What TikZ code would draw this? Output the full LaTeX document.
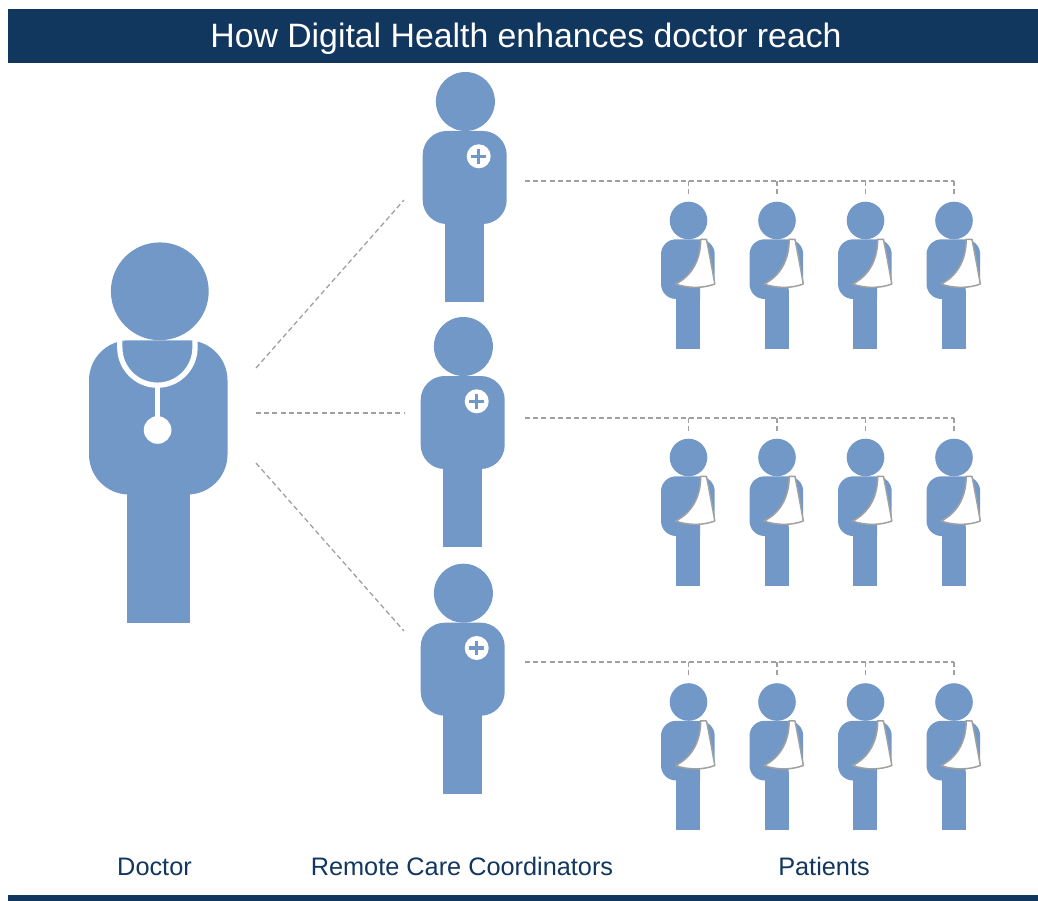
\documentclass[tikz,border=0pt]{standalone}
\usepackage{fontspec}
\setmainfont{Liberation Sans}
\definecolor{navy}{HTML}{12375F}
\definecolor{figblue}{HTML}{7298C8}
\definecolor{linkgray}{HTML}{A0A0A0}
\tikzset{
  figure/.style={fill=figblue,draw=none},
  hole/.style={fill=white,draw=none},
  link/.style={color=linkgray,line width=1.3pt,dash pattern=on 5pt off 3.2pt},
  caption/.style={text=navy,font=\fontsize{25.3}{28}\selectfont,anchor=base,inner sep=0pt},
  sling/.style={fill=white,draw=linkgray,line width=1.5pt,line join=round}
}
% coordinator, drawn at the place of the top one
\newcommand{\coordfig}[2]{
  \begin{scope}[shift={(#1,#2)}]
    \fill[figure] (465.4,101.5) circle (29.5);
    \fill[figure,rounded corners=24pt] (422.7,131) rectangle (506.7,224);
    \fill[figure] (445.3,223) rectangle (483.7,302);
    \fill[hole] (478.7,156.3) circle (12);
    \fill[figure] (471.4,154.6) rectangle (486,158);
    \fill[figure] (477,149) rectangle (480.4,163.6);
  \end{scope}
}
% patient, drawn at the place of the first one
\newcommand{\patientfig}[2]{
  \begin{scope}[shift={(#1,#2)}]
    \fill[figure] (688.5,220.5) circle (18.8);
    \fill[figure,rounded corners=15pt] (680,299) -- (661,299) -- (661,239.3) -- (714.7,239.3) [sharp corners] -- (714.7,284) -- (700,284) -- (700,299) -- cycle;
    \fill[figure] (676,290) rectangle (700,348.7);
    \draw[sling] (700.7,239.3) .. controls (700.7,262) and (690,277) .. (675.5,284)
      .. controls (688,288.5) and (703,288.5) .. (714.8,284)
      .. controls (712,268) and (709,252) .. (706.5,239.5) -- cycle;
  \end{scope}
}
\begin{document}
\begin{tikzpicture}[x=1pt,y=-1pt]
\useasboundingbox (0,0) rectangle (1038,901);
\fill[navy] (8,9) rectangle (1038,63);
\fill[navy] (8,895) rectangle (1038,901);
\node[text=white,font=\fontsize{33.8}{36}\selectfont,inner sep=0pt,anchor=base] (title) at (526,48) {How Digital Health enhances doctor reach};
%% doctor
\fill[figure] (159.8,291.3) circle (48.9);
\fill[figure,rounded corners=40pt] (89,340.3) rectangle (227.5,494.5);
\fill[figure] (127,490) rectangle (190,623);
\draw[white,line width=5.3pt] (119.8,340.3) -- (119.8,347.6) arc[start angle=180,end angle=0,radius=37.6] -- (195,340.3);
\draw[white,line width=5.3pt] (157.6,385) -- (157.6,425);
\fill[hole] (157.6,430) circle (13.8);
%% coordinators
\coordfig{0}{0}
\coordfig{-2}{245}
\coordfig{-2}{491.7}
%% patients
\foreach \dy in {0,237,481.5}
  \foreach \dx in {0,88.5,177,265.5}
    \patientfig{\dx}{\dy}
%% links from doctor
\coordinate (doc1) at (256,368);
\coordinate (doc2) at (256,413);
\coordinate (doc3) at (256,463);
\coordinate (rcc1) at (404,200);
\coordinate (rcc2) at (404,413);
\coordinate (rcc3) at (404,631);
\foreach \n in {1,2,3}
  \draw[link] (doc\n) -- (rcc\n);
%% links to patients
\foreach \n/\y in {1/181,2/418,3/662}{
  \coordinate (start\n) at (525,\y);
  \coordinate (end\n) at (954,\y);
  \draw[link] (start\n) -- (end\n);
  \foreach \x in {688.5,777,865.5,954}{
    \coordinate (top) at (\x,\y);
    \coordinate (pat) at (\x,\y+16);
    \draw[link] (top) -- (pat);
  }
}
\node[caption] (doctor) at (154.5,875) {Doctor};
\node[caption] (coordinators) at (462,875) {Remote Care Coordinators};
\node[caption] (patients) at (824,875) {Patients};
\end{tikzpicture}
\end{document}
